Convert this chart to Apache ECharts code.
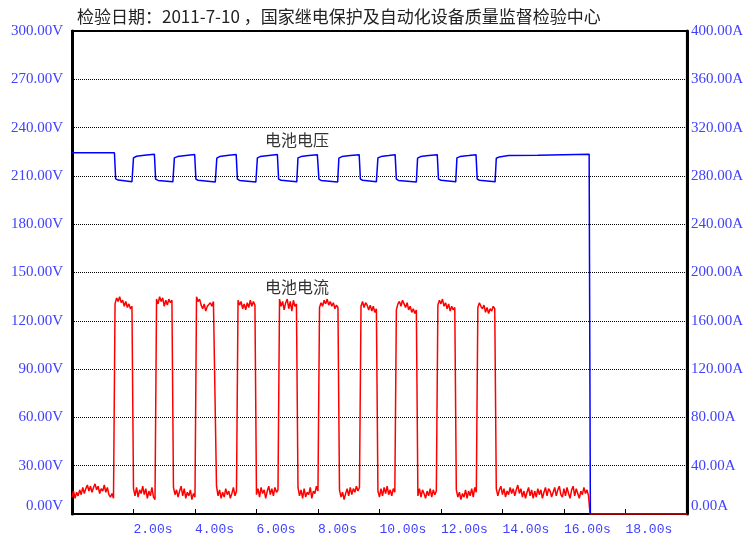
<!DOCTYPE html>
<html>
<head>
<meta charset="utf-8">
<script src="https://cdn.jsdelivr.net/npm/echarts@6/dist/echarts.min.js"></script>
<style>html,body{margin:0;padding:0;background:#fff;}#c{width:746px;height:540px;}</style>
</head>
<body>
<div id="c"></div>
<script>
// ---- data ----
const titleText = '检验日期：2011-7-10 ，国家继电保护及自动化设备质量监督检验中心';
const voltageName = '电池电压';
const currentName = '电池电流';
const xTicks = { min: 0, max: 20, interval: 2 };          // seconds
const vTicks = { min: 0, max: 300, interval: 30 };        // volts
const aTicks = { min: 0, max: 400, interval: 40 };        // amps

// battery voltage (V): [time s, value]
const voltage = [
  [0,224.4],[1.38,224.4],[1.42,208.2],[1.5,207.4],[1.95,206.4],[2.0,221.2],[2.1,222.2],[2.35,222.8],[2.68,223.4],
  [2.72,208.0],[2.8,207.2],[3.28,206.3],[3.33,221.2],[3.43,222.0],[3.7,222.7],[3.99,223.3],
  [4.03,208.0],[4.1,207.3],[4.66,206.2],[4.71,221.0],[4.8,222.0],[5.1,222.8],[5.34,223.3],
  [5.38,208.0],[5.45,207.2],[5.98,206.2],[6.03,221.2],[6.12,222.0],[6.4,222.7],[6.68,223.3],
  [6.72,208.0],[6.8,207.3],[7.31,206.3],[7.35,221.2],[7.45,222.0],[7.7,222.6],[7.98,223.2],
  [8.03,208.0],[8.1,207.2],[8.64,206.2],[8.68,221.0],[8.78,222.0],[9.05,222.6],[9.34,223.2],
  [9.38,208.0],[9.45,207.3],[9.9,206.4],[9.95,221.2],[10.05,222.0],[10.3,222.6],[10.51,223.2],
  [10.55,208.0],[10.62,207.2],[11.2,206.2],[11.24,221.0],[11.34,222.0],[11.6,222.6],[11.88,223.2],
  [11.92,208.0],[12.0,207.3],[12.48,206.3],[12.52,221.2],[12.62,222.0],[12.9,222.6],[13.14,223.2],
  [13.18,208.0],[13.25,207.3],[13.76,206.3],[13.8,221.0],[13.9,221.8],[14.2,222.6],[15.15,222.8],
  [15.2,223.4],[16.82,223.4],[16.86,0]
];

// battery current (A): recorder samples every 0.05 s starting at 0 s
const sampleStep = 0.05;
const currentA = [
  14,19,13,18,15,20,16,22,17,21,24,19,23,18,22,25,20,23,17,21,19,24,18,22,16,14,17,13,
  174,179,176,180,175,177,172,176,171,174,170,172,
  21,15,22,14,20,17,23,16,21,13,19,15,22,14,12,
  178,174,180,176,179,172,177,173,178,175,177,
  22,16,20,14,19,23,15,21,13,18,15,20,12,17,14,
  180,176,178,173,170,174,168,172,171,175,172,176,177,
  23,15,20,13,18,14,21,16,19,13,17,22,15,19,
  177,173,176,170,174,169,175,171,177,172,176,173,
  16,21,14,22,17,20,13,19,23,16,21,15,22,18,20,
  178,172,176,169,175,178,170,176,168,177,172,174,
  22,15,20,13,21,14,18,16,22,13,19,17,23,19,
  171,175,172,177,174,178,173,176,172,175,170,173,171,
  20,14,18,12,17,21,15,22,16,21,18,23,19,22,
  172,176,171,175,173,169,173,168,172,167,170,
  19,14,21,15,22,17,23,16,20,15,21,18,
  169,174,176,172,177,174,171,175,169,172,167,170,166,169,
  15,21,14,20,17,13,19,15,21,14,20,16,19,
  173,177,174,178,172,175,170,174,168,172,169,171,
  20,14,18,12,17,14,20,13,19,15,21,14,22,18,
  171,175,172,170,173,167,171,166,170,168,172,170,
  21,15,20,23,16,21,14,19,16,22,17,21,15,20,24,17,21,14,19,13,
  18,22,15,20,13,19,14,21,16,20,13,18,22,15,21,19,14,18,22,15,
  20,23,16,14,21,15,22,17,13,20,23,15,21,17,13,19,16,22,17,20,15,
  0
];
const currentTail = [[20, 0]];

// ---- chart ----
const currentData = currentA.map((v, i) => [+(i * sampleStep).toFixed(2), v]).concat(currentTail);
const labelBlue = '#4040ff';
const serif = '"Liberation Serif", "DejaVu Serif", serif';
const mono = '"Liberation Mono", "DejaVu Sans Mono", monospace';
const cjk = '"Noto Sans CJK SC", sans-serif';

const chart = echarts.init(document.getElementById('c'), null, { renderer: 'canvas' });
chart.setOption({
  animation: false,
  backgroundColor: '#fff',
  title: {
    text: titleText, left: 72, top: 3,
    textStyle: { fontSize: 17, fontWeight: 'normal', color: '#222', fontFamily: cjk }
  },
  grid: { left: 72, right: 58, top: 31, bottom: 26, show: true, borderColor: '#000', borderWidth: 2, backgroundColor: 'transparent' },
  xAxis: {
    type: 'value', min: xTicks.min, max: xTicks.max, interval: xTicks.interval,
    axisLine: { show: true, onZero: false, lineStyle: { color: '#000', width: 2 } },
    axisTick: { show: true, inside: true, length: 5, lineStyle: { color: '#000', width: 1 } },
    axisLabel: {
      showMinLabel: false, showMaxLabel: false, align: 'left', margin: 9,
      color: labelBlue, fontSize: 13, fontFamily: mono,
      formatter: v => v.toFixed(2) + 's'
    },
    splitLine: { show: false }
  },
  yAxis: [
    {
      type: 'value', min: vTicks.min, max: vTicks.max, interval: vTicks.interval, position: 'left',
      axisLine: { show: true, lineStyle: { color: '#000', width: 3 } },
      axisTick: { show: false },
      axisLabel: { color: labelBlue, fontSize: 15, fontFamily: serif, margin: 9,
        verticalAlignMinLabel: 'bottom', formatter: v => v.toFixed(2) + 'V' },
      splitLine: { show: true, lineStyle: { color: '#000', type: [1, 1], width: 1 } }
    },
    {
      type: 'value', min: aTicks.min, max: aTicks.max, interval: aTicks.interval, position: 'right',
      axisLine: { show: true, lineStyle: { color: '#000', width: 3 } },
      axisTick: { show: false },
      axisLabel: { color: labelBlue, fontSize: 15, fontFamily: serif, margin: 4,
        verticalAlignMinLabel: 'bottom', formatter: v => v.toFixed(2) + 'A' },
      splitLine: { show: false }
    }
  ],
  graphic: [
    { type: 'text', left: 265, top: 132, style: { text: voltageName, fill: '#333', font: '16px ' + cjk } },
    { type: 'text', left: 265, top: 279, style: { text: currentName, fill: '#333', font: '16px ' + cjk } }
  ],
  series: [
    {
      name: currentName, type: 'line', yAxisIndex: 1, data: currentData,
      showSymbol: false, symbol: 'none', lineStyle: { color: '#ff0000', width: 1.5 }, z: 3
    },
    {
      name: voltageName, type: 'line', yAxisIndex: 0, data: voltage,
      showSymbol: false, symbol: 'none', lineStyle: { color: '#0000ff', width: 1.5 }, z: 4
    }
  ]
});
</script>
</body>
</html>
